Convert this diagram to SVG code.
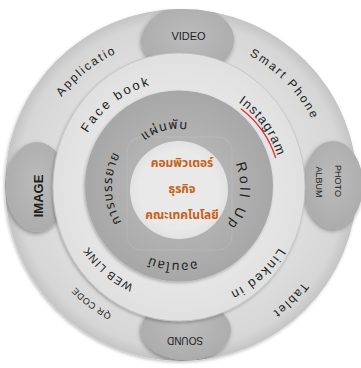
<svg xmlns="http://www.w3.org/2000/svg" width="361" height="368" viewBox="0 0 361 368">
  <defs>
    <radialGradient id="gOuter" cx="50%" cy="50%" r="50%">
      <stop offset="0.7" stop-color="#dedede"/>
      <stop offset="0.93" stop-color="#d6d6d6"/>
      <stop offset="1" stop-color="#c4c4c4"/>
    </radialGradient>
    <radialGradient id="gMiddle" cx="50%" cy="50%" r="50%">
      <stop offset="0.7" stop-color="#e6e6e6"/>
      <stop offset="1" stop-color="#e0e0e0"/>
    </radialGradient>
    <radialGradient id="gDark" cx="50%" cy="50%" r="50%">
      <stop offset="0.5" stop-color="#b3b3b3"/>
      <stop offset="1" stop-color="#a7a7a7"/>
    </radialGradient>
    <radialGradient id="gPod" cx="50%" cy="45%" r="55%">
      <stop offset="0" stop-color="#bcbcbc"/>
      <stop offset="1" stop-color="#acacac"/>
    </radialGradient>
    <radialGradient id="gCore" cx="50%" cy="50%" r="50%">
      <stop offset="0.8" stop-color="#e9e9e9"/>
      <stop offset="1" stop-color="#e2e2e2"/>
    </radialGradient>
    <filter id="shadow" x="-20%" y="-20%" width="140%" height="140%">
      <feDropShadow dx="-1" dy="2" stdDeviation="2" flood-color="#000" flood-opacity="0.35"/>
    </filter>
    <filter id="softShadow" x="-10%" y="-10%" width="120%" height="120%">
      <feDropShadow dx="-1" dy="1.5" stdDeviation="1.5" flood-color="#000" flood-opacity="0.25"/>
    </filter>
    <clipPath id="outerClip">
      <circle cx="181" cy="185" r="176"/>
    </clipPath>

    <!-- arcs used as baselines for curved labels -->
    <path id="pApplication" d="M49.1,257.8 A148,148 0 0 1 276.9,76.0"/>
    <path id="pSmart" d="M95.2,63.8 A149,149 0 0 1 299.9,274.2"/>
    <path id="pTablet" d="M307.6,98.6 A156,156 0 0 1 88.4,314.0"/>
    <path id="pQr" d="M277.2,292.3 A144,144 0 0 1 50.7,121.6"/>
    <path id="pFace" d="M84.8,235.6 A106,106 0 0 1 250.9,109.1"/>
    <path id="pInsta" d="M133.8,94.4 A103,103 0 0 1 253.1,258.6"/>
    <path id="pLinked" d="M278.2,125.0 A117,117 0 0 1 107.0,279.2"/>
    <path id="pWeb" d="M247.0,270.9 A108,108 0 0 1 86.4,131.4"/>
    <path id="pLeaflet" d="M121.1,191.0 A58,58 0 0 1 232.0,163.4"/>
    <path id="pRoll" d="M198.9,129.3 A61,61 0 0 1 180.1,248.0"/>
    <path id="pLecture" d="M168.5,253.2 A67,67 0 0 1 166.2,121.2"/>
    <path id="pOnline" d="M252.4,206.7 A76,76 0 0 1 103.3,193.6"/>

    <style>
      .lbl { font-family: "Liberation Sans", Arial, sans-serif; fill: #222; }
      .th { font-family: "Noto Sans Thai", "Noto Sans", "DejaVu Sans", sans-serif; fill: #222; }
      .pod { fill: url(#gPod); filter: url(#shadow); }
      .podText { font-family: "Liberation Sans", Arial, sans-serif; fill: #1e1e1e; text-anchor: middle; }
      .core { font-family: "Noto Sans Thai", "Noto Sans", "DejaVu Sans", sans-serif; font-weight: bold; font-size: 12px; fill: #c65f1d; stroke: #f3e2d2; stroke-width: 0.6; paint-order: stroke; text-anchor: middle; }
    </style>
  </defs>

  <!-- outer ring -->
  <g id="outer-ring">
    <circle cx="181" cy="185" r="176" fill="url(#gOuter)" filter="url(#softShadow)"/>
  </g>

  <!-- media pods on the outer ring -->
  <g clip-path="url(#outerClip)">
    <g id="pod-video">
      <ellipse class="pod" cx="188" cy="40" rx="46" ry="34"/>
      <text class="podText" x="188.5" y="39.5" font-size="11">VIDEO</text>
    </g>
    <g id="pod-image">
      <ellipse class="pod" cx="37" cy="187" rx="31" ry="45"/>
      <text class="podText" transform="translate(43,196) rotate(-90)" font-size="13" font-weight="bold">IMAGE</text>
    </g>
    <g id="pod-sound">
      <ellipse class="pod" cx="186" cy="330" rx="45" ry="30"/>
      <text class="podText" transform="translate(185,337) rotate(180)" font-size="10">SOUND</text>
    </g>
  </g>
  <g id="pod-photo-album">
    <ellipse class="pod" cx="333" cy="185" rx="30" ry="44"/>
    <text class="podText" transform="translate(335,181) rotate(90)" font-size="9">PHOTO</text>
    <text class="podText" transform="translate(315.5,182) rotate(90)" font-size="9">ALBUM</text>
  </g>

  <!-- outer ring labels -->
  <g id="outer-labels" class="lbl" font-size="12" letter-spacing="2">
    <text><textPath href="#pApplication" startOffset="50%" text-anchor="middle">Applicatio</textPath></text>
    <text><textPath href="#pSmart" startOffset="50%" text-anchor="middle">Smart Phone</textPath></text>
    <text><textPath href="#pTablet" startOffset="50%" text-anchor="middle">Tablet</textPath></text>
    <text font-size="9" letter-spacing="0.6"><textPath href="#pQr" startOffset="50%" text-anchor="middle">QR CODE</textPath></text>
  </g>

  <!-- middle ring -->
  <g id="middle-ring">
    <ellipse cx="179" cy="187" rx="126" ry="134" fill="url(#gMiddle)" stroke="#c2c2c2" stroke-width="0.8" filter="url(#softShadow)"/>
  </g>

  <!-- inner dark ring -->
  <g id="inner-ring">
    <ellipse cx="179" cy="186" rx="94" ry="95.5" fill="url(#gDark)" filter="url(#softShadow)"/>
    <rect x="127" y="137" width="105" height="113" rx="14" fill="none" stroke="#ffffff" stroke-opacity="0.12" stroke-width="1"/>
  </g>

  <!-- middle ring labels -->
  <g id="middle-labels" class="lbl" font-size="13">
    <text letter-spacing="2.4"><textPath href="#pFace" startOffset="50%" text-anchor="middle">Face book</textPath></text>
    <text letter-spacing="1.2"><textPath href="#pInsta" startOffset="50%" text-anchor="middle">Instagram</textPath></text>
    <text letter-spacing="1.8"><textPath href="#pLinked" startOffset="50%" text-anchor="middle">Linked in</textPath></text>
    <text font-size="11" letter-spacing="1"><textPath href="#pWeb" startOffset="50%" text-anchor="middle">WEB LINK</textPath></text>
  </g>

  <!-- underline stroke beneath Instagram -->
  <g id="connectors">
    <path d="M241.3,109.0 A100.5,100.5 0 0 1 275.6,157.6" fill="none" stroke="#e0303a" stroke-width="1.4" stroke-linecap="round"/>
  </g>

  <!-- inner ring labels -->
  <g id="inner-labels" class="th" font-size="13">
    <text letter-spacing="1.2"><textPath href="#pLeaflet" startOffset="50%" text-anchor="middle">แผ่นพับ</textPath></text>
    <text class="lbl" font-size="14" letter-spacing="3"><textPath href="#pRoll" startOffset="50%" text-anchor="middle">Roll Up</textPath></text>
    <text letter-spacing="1.2"><textPath href="#pLecture" startOffset="50%" text-anchor="middle">การบรรยาย</textPath></text>
    <text letter-spacing="1.2"><textPath href="#pOnline" startOffset="50%" text-anchor="middle">ออนไลน์</textPath></text>
  </g>

  <!-- centre -->
  <g id="centre">
    <circle cx="179" cy="190" r="49" fill="url(#gCore)"/>
    <text class="core" x="182" y="167">คอมพิวเตอร์</text>
    <text class="core" x="182" y="193">ธุรกิจ</text>
    <text class="core" x="182" y="219">คณะเทคโนโลยี</text>
  </g>
</svg>
